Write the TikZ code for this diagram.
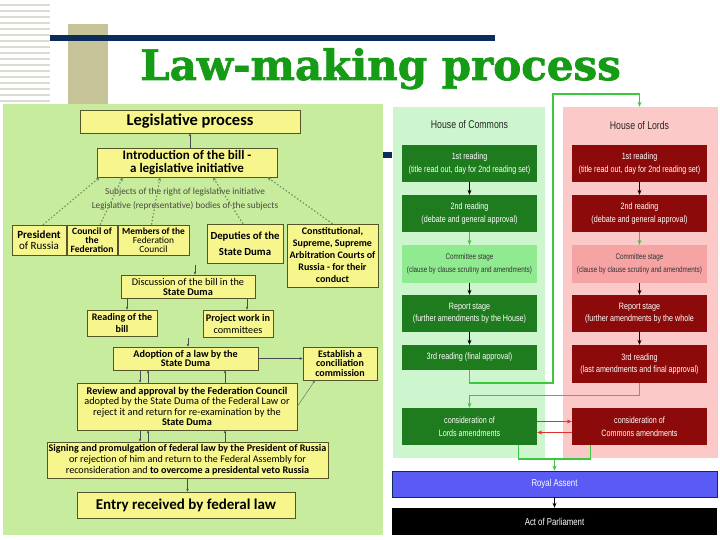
\documentclass[tikz,border=0pt]{standalone}
\usepackage{fontspec}
\setmainfont{Carlito}
\newfontfamily\narrowf[FakeStretch=0.78]{Liberation Sans}
\newfontfamily\titlef{DejaVu Serif}[BoldFeatures={FakeBold=1.6}]
\usetikzlibrary{arrows.meta,calc}
\definecolor{panelgreen}{HTML}{C8EC9E}
\definecolor{boxyellow}{HTML}{F6F68C}
\definecolor{boxline}{HTML}{55552A}
\definecolor{stripecol}{HTML}{DCDCD2}
\definecolor{tanbar}{HTML}{C8C49A}
\definecolor{navy}{HTML}{0C2C5C}
\definecolor{titlegreen}{HTML}{169B16}
\definecolor{dotcol}{HTML}{6E8E60}
\definecolor{subjcol}{HTML}{4A4A40}
\definecolor{companel}{HTML}{CEF6CE}
\definecolor{lordpanel}{HTML}{FCC9C9}
\definecolor{dgreen}{HTML}{1E7B1E}
\definecolor{lgreen}{HTML}{90EA90}
\definecolor{dred}{HTML}{8C0A0A}
\definecolor{lred}{HTML}{F5A3A3}
\definecolor{royal}{HTML}{5A5AF5}
\definecolor{arrgreen}{HTML}{3CC83C}
\definecolor{arrred}{HTML}{E03030}
\begin{document}
\begin{tikzpicture}[x=1pt,y=-1pt,
  lbox/.style={draw=boxline, fill=boxyellow, line width=0.6pt, inner sep=1pt, align=center, text=black},
  dotarrow/.style={draw=dotcol, line width=1.1pt, dash pattern=on 1.5pt off 2pt, -{Stealth[length=4pt,width=3.5pt]}},
  sarrow/.style={draw=black!70, line width=0.5pt, -{Stealth[length=3pt,width=2.5pt]}},
  rbox/.style={inner sep=1pt, align=center, text=white, font=\narrowf\fontsize{9.2}{12.5}\selectfont, minimum width=135pt},
  cbox/.style={rbox, text=black!80, font=\narrowf\fontsize{8.1}{12.5}\selectfont},
  barrow/.style={draw=black, line width=0.8pt, -{Stealth[length=5pt,width=4pt]}},
  garrow/.style={draw=arrgreen, line width=1.2pt, -{Stealth[length=5pt,width=4pt]}},
  gline/.style={draw=arrgreen, line width=1.2pt},
  rarrow/.style={draw=arrred, line width=1.2pt, -{Stealth[length=5pt,width=4pt]}}]
\useasboundingbox (0,0) rectangle (720,540);
\fill[white] (0,0) rectangle (720,540);
% slide decoration
\foreach \yy in {5,11,...,101} \draw[stripecol, line width=1.2pt] (0,\yy) -- (50,\yy);
\fill[tanbar] (68,24) rectangle (108,106);
\fill[navy] (50,35) rectangle (495,41);
\node[anchor=base west, text=titlegreen, font=\titlef\bfseries\fontsize{42}{42}\selectfont, inner sep=0] (title) at (140,80) {Law-making process};
% ---------------- left panel ----------------
\fill[panelgreen] (3,104) rectangle (383,535);
\node[lbox, minimum width=220pt, minimum height=23pt, font=\bfseries\fontsize{16.5}{18}\selectfont] (legis) at (190,121.5) {Legislative process};
\node[lbox, minimum width=180pt, minimum height=29pt, font=\bfseries\fontsize{13}{12.5}\selectfont] (intro) at (187,162.5) {Introduction of the bill -\\a legislative initiative};
\node[text=subjcol, font=\fontsize{9.3}{10}\selectfont, inner sep=0] (subj1) at (185,192) {Subjects of the right of legislative initiative};
\node[text=subjcol, font=\fontsize{9.3}{10}\selectfont, inner sep=0] (subj2) at (185,206) {Legislative (representative) bodies of the subjects};
\node[lbox, minimum width=54pt, minimum height=30pt, font=\fontsize{11}{11.5}\selectfont] (pres) at (39,240) {\textbf{President}\\of Russia};
\node[lbox, minimum width=50pt, minimum height=30pt, font=\bfseries\fontsize{9.6}{9}\selectfont] (council) at (92,240) {Council of\\the\\Federation};
\node[lbox, minimum width=71pt, minimum height=30pt, font=\fontsize{9.4}{9}\selectfont] (members) at (153.5,240) {\textbf{Members of the}\\Federation\\Council};
\node[lbox, minimum width=76pt, minimum height=39pt, font=\bfseries\fontsize{10.8}{16}\selectfont] (deputies) at (245,243.5) {Deputies of the\\State Duma};
\node[lbox, minimum width=91pt, minimum height=63pt, font=\bfseries\fontsize{10}{12}\selectfont] (const) at (332.5,255.5) {Constitutional,\\Supreme, Supreme\\Arbitration Courts of\\Russia - for their\\conduct};
\node[lbox, minimum width=134pt, minimum height=23pt, font=\fontsize{10.3}{10}\selectfont] (disc) at (188,286.5) {Discussion of the bill in the\\\textbf{State Duma}};
\node[lbox, minimum width=70pt, minimum height=26pt, font=\bfseries\fontsize{10}{12}\selectfont] (reading) at (122,323) {Reading of the\\bill};
\node[lbox, minimum width=70pt, minimum height=27pt, font=\fontsize{10.2}{12}\selectfont] (project) at (238,323.5) {\textbf{Project work in}\\committees};
\node[lbox, minimum width=145pt, minimum height=23pt, font=\bfseries\fontsize{10.2}{9.5}\selectfont] (adopt) at (185.5,358.5) {Adoption of a law by the\\State Duma};
\node[lbox, minimum width=74pt, minimum height=33pt, font=\bfseries\fontsize{10}{9.5}\selectfont] (establish) at (340,363.5) {Establish a\\conciliation\\commission};
\node[lbox, minimum width=220pt, minimum height=47pt, font=\fontsize{10.3}{10.4}\selectfont] (review) at (187,406.5) {\textbf{Review and approval by the Federation Council}\\adopted by the State Duma of the Federal Law or\\reject it and return for re-examination by the\\\textbf{State Duma}};
\node[lbox, minimum width=281pt, minimum height=36pt, font=\fontsize{10.1}{11.2}\selectfont] (signing) at (187.5,460) {\textbf{Signing and promulgation of federal law by the President of Russia}\\or rejection of him and return to the Federal Assembly for\\reconsideration and \textbf{to overcome a presidental veto Russia}};
\node[lbox, minimum width=218pt, minimum height=26pt, font=\bfseries\fontsize{15}{16}\selectfont] (entry) at (186,505) {Entry received by federal law};
% left connectors
\draw[sarrow] (intro.north -| legis.south) -- (legis.south);
\draw[dotarrow] ([xshift=4pt]pres.north) -- ([xshift=3pt]intro.south west);
\draw[dotarrow] ([xshift=8pt]council.north) -- ([xshift=26pt]intro.south west);
\draw[dotarrow] ([xshift=-2pt]members.north) -- ([xshift=-27pt]intro.south);
\draw[dotarrow] ([xshift=-2pt]deputies.north) -- ([xshift=26pt]intro.south);
\draw[dotarrow] ([xshift=0pt]const.north) -- ([xshift=-10pt]intro.south east);
\coordinate (dd) at (195,265);
\draw[sarrow] (dd) -- (dd |- disc.north);
\draw[sarrow] ([xshift=5pt]reading.north |- disc.south) -- ([xshift=5pt]reading.north);
\draw[sarrow] ([xshift=9pt]project.north |- disc.south) -- ([xshift=9pt]project.north);
\coordinate (ra) at (188,338);
\draw[sarrow] (ra) -- (ra |- adopt.north);
\draw[sarrow] (adopt.east) -- (establish.west |- adopt.east);
\draw[sarrow, draw=black!55] (review.east) -- ([xshift=-25pt]establish.south);
\coordinate (xa) at (140,0);
\coordinate (xb) at (148,0);
\coordinate (xc) at (225,0);
\draw[sarrow] (xa |- adopt.south) -- (xa |- review.north);
\draw[sarrow] (xb |- review.north) -- (xb |- adopt.south);
\draw[sarrow] (xc |- review.north) -- (xc |- adopt.south);
\draw[sarrow] (xa |- review.south) -- (xa |- signing.north);
\draw[sarrow] (xb |- signing.north) -- (xb |- review.south);
\draw[sarrow] (xc |- signing.north) -- (xc |- review.south);
\draw[sarrow] (signing.south) -- (signing.south |- entry.north);
% ---------------- right panel ----------------
\fill[navy] (383,152) rectangle (392,158);
\node[fill=companel, minimum width=152pt, minimum height=351pt, inner sep=0] (cpanel) at (469,282.5) {};
\node[fill=lordpanel, minimum width=155pt, minimum height=351pt, inner sep=0] (lpanel) at (640.5,282.5) {};
\node[font=\narrowf\fontsize{11.2}{12}\selectfont, text=black!85] (chead) at (469.5,125) {House of Commons};
\node[font=\narrowf\fontsize{11.2}{12}\selectfont, text=black!85] (lhead) at (639.5,125) {House of Lords};
\node[rbox, fill=dgreen, minimum height=37pt] (c1) at (469.5,163.5) {1st reading\\(title read out, day for 2nd reading set)};
\node[rbox, fill=dgreen, minimum height=37pt] (c2) at (469.5,213.5) {2nd reading\\(debate and general approval)};
\node[cbox, fill=lgreen, minimum height=38pt] (c3) at (469.5,264) {Committee stage\\(clause by clause scrutiny and amendments)};
\node[rbox, fill=dgreen, minimum height=37pt] (c4) at (469.5,313.5) {Report stage\\(further amendments by the House)};
\node[rbox, fill=dgreen, minimum height=25pt] (c5) at (469.5,357.5) {3rd reading (final approval)};
\node[rbox, fill=dgreen, minimum height=37pt] (c6) at (469.5,426.5) {consideration of\\Lords amendments};
\node[rbox, fill=dred, minimum height=37pt] (l1) at (639.5,163.5) {1st reading\\(title read out, day for 2nd reading set)};
\node[rbox, fill=dred, minimum height=37pt] (l2) at (639.5,213.5) {2nd reading\\(debate and general approval)};
\node[cbox, fill=lred, minimum height=38pt] (l3) at (639.5,264) {Committee stage\\(clause by clause scrutiny and amendments)};
\node[rbox, fill=dred, minimum height=37pt] (l4) at (639.5,313.5) {Report stage\\(further amendments by the whole};
\node[rbox, fill=dred, minimum height=38pt] (l5) at (639.5,364) {3rd reading\\(last amendments and final approval)};
\node[rbox, fill=dred, minimum height=37pt] (l6) at (639.5,426.5) {consideration of\\Commons amendments};
\node[rbox, fill=royal, draw=navy, line width=0.8pt, minimum width=325pt, minimum height=26pt, font=\narrowf\fontsize{10}{11}\selectfont] (royal) at (554.5,484) {Royal Assent};
\node[rbox, fill=black, minimum width=325pt, minimum height=27pt, font=\narrowf\fontsize{10}{11}\selectfont] (act) at (554.5,521.5) {Act of Parliament};
% right connectors
\draw[barrow] (c1) -- (c2);
\draw[garrow] (c2) -- (c3);
\draw[barrow] (c3) -- (c4);
\draw[barrow] (c4) -- (c5);
\draw[barrow] (l1) -- (l2);
\draw[garrow] (l2) -- (l3);
\draw[barrow] (l3) -- (l4);
\draw[barrow] (l4) -- (l5);
\coordinate (g1) at (553,383);
\coordinate (g2) at (553,94);
\draw[garrow] (c5.south) |- (g1) -- (g2) -| (l1.north |- lpanel.north);
\draw[garrow] (l5.south) -- ++(0,12) -| (c6.north);
\draw[rarrow] ([yshift=5pt]c6.east) -- ([yshift=5pt]l6.west);
\draw[rarrow] ([yshift=-6pt]l6.west) -- ([yshift=-6pt]c6.east);
\coordinate (j) at (554.5,459);
\draw[gline] ([xshift=-19pt]c6.south east) |- (j) -| ([xshift=19pt]l6.south west);
\draw[garrow] (j) -- (j |- royal.north);
\draw[barrow] (royal) -- (act);
\end{tikzpicture}
\end{document}
